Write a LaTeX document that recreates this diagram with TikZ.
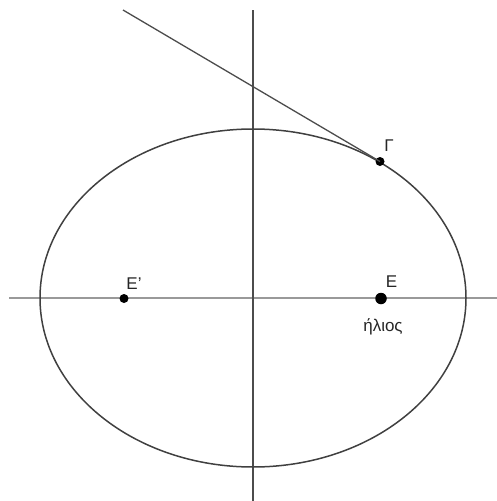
\documentclass[tikz,border=0pt]{standalone}
\usepackage{fontspec}
\setmainfont{Liberation Sans}
\begin{document}
\begin{tikzpicture}[x=1pt,y=-1pt,
  curve/.style={draw=black!75,line width=1.5pt},
  haxis/.style={draw=black!40,line width=1.3pt},
  vaxis/.style={draw=black!70,line width=1.1pt},
  tang/.style={draw=black!70,line width=1.3pt},
  smalldot/.style={circle,fill=black,inner sep=0pt,minimum size=9pt},
  bigdot/.style={circle,fill=black,inner sep=0pt,minimum size=11.5pt},
  lbl/.style={font=\fontsize{17}{20}\selectfont,text=black!85,inner sep=0pt}]
\useasboundingbox (0,0) rectangle (497,501);
\coordinate (hl) at (9,298);
\coordinate (hr) at (497,298);
\coordinate (vt) at (253,10);
\coordinate (vb) at (253,501);
\coordinate (tt) at (123,10);
\draw[haxis] (hl) -- (hr);
\draw[vaxis] (vt) -- (vb);
\draw[curve] (253,298) ellipse [x radius=213, y radius=169];
\node[smalldot] (G) at (380,161.5) {};
\draw[tang] (tt) -- (G.center);
\node[smalldot] (Ep) at (124,298.5) {};
\node[bigdot] (E) at (381,298.5) {};
\node[lbl] (Gl) at (389,146) {Γ};
\node[lbl] (Epl) at (134,284) {E{\char"0027}};
\node[lbl] (El) at (391.5,282) {E};
\node[lbl] (hel) at (383,327) {ήλιος};
\end{tikzpicture}
\end{document}
